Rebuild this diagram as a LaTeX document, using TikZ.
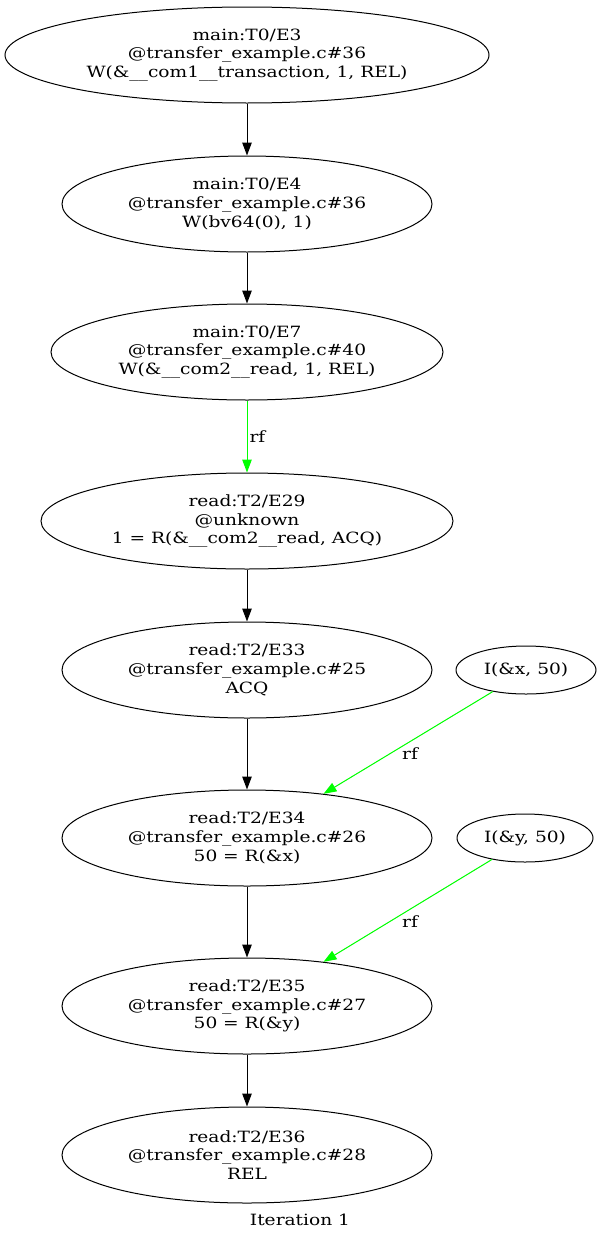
\documentclass[tikz,border=0pt]{standalone}
\usepackage{fontspec}
\setmainfont{DejaVu Serif}[FakeStretch=1.2]
\usetikzlibrary{shapes.geometric,arrows.meta}
\definecolor{rfgreen}{RGB}{0,255,0}
\begin{document}
\begin{tikzpicture}[x=1pt,y=-1pt,
  ev/.style={ellipse,draw,line width=1pt,inner sep=0pt,align=center,
    font=\fontsize{15.5}{18.7}\selectfont},
  po/.style={line width=1pt,-{Triangle[length=13pt,width=9.5pt]}},
  rfe/.style={po,draw=rfgreen,fill=rfgreen},
  lbl/.style={font=\fontsize{15.5}{18.7}\selectfont,inner sep=0pt}]
\useasboundingbox[fill=white] (0,0) rectangle (601,1242);
\node[ev,minimum width=484pt,minimum height=96pt] (e3) at (247,55) {main:T0/E3\\@transfer\_example.c\#36\\W(\&\_\_com1\_\_transaction, 1, REL)};
\node[ev,minimum width=370pt,minimum height=96pt] (e4) at (247,204) {main:T0/E4\\@transfer\_example.c\#36\\W(bv64(0), 1)};
\node[ev,minimum width=392pt,minimum height=96pt] (e7) at (247,352) {main:T0/E7\\@transfer\_example.c\#40\\W(\&\_\_com2\_\_read, 1, REL)};
\node[ev,minimum width=412pt,minimum height=96pt] (e29) at (247,521) {read:T2/E29\\@unknown\\1 = R(\&\_\_com2\_\_read, ACQ)};
\node[ev,minimum width=370pt,minimum height=96pt] (e33) at (247,670) {read:T2/E33\\@transfer\_example.c\#25\\ACQ};
\node[ev,minimum width=140pt,minimum height=48pt] (ix) at (526,670) {I(\&x, 50)};
\node[ev,minimum width=370pt,minimum height=96pt] (e34) at (247,838) {read:T2/E34\\@transfer\_example.c\#26\\50 = R(\&x)};
\node[ev,minimum width=136pt,minimum height=48pt] (iy) at (525,838) {I(\&y, 50)};
\node[ev,minimum width=370pt,minimum height=96pt] (e35) at (247,1006) {read:T2/E35\\@transfer\_example.c\#27\\50 = R(\&y)};
\node[ev,minimum width=370pt,minimum height=96pt] (e36) at (247,1155) {read:T2/E36\\@transfer\_example.c\#28\\REL};
\node[lbl] (iter) at (300,1220) {Iteration 1};
\draw[po] (e3) -- (e4);
\draw[po] (e4) -- (e7);
\draw[rfe] (e7) -- node[lbl,right=2pt,text=black]{rf} (e29);
\draw[po] (e29) -- (e33);
\draw[po] (e33) -- (e34);
\draw[po] (e34) -- (e35);
\draw[po] (e35) -- (e36);
\draw[rfe] (ix.213.7) -- (e34.30.5);
\draw[rfe] (iy.213.7) -- (e35.30.5);
\node[lbl] (rf2) at (410,754) {rf};
\node[lbl] (rf3) at (410,922) {rf};
\end{tikzpicture}
\end{document}
